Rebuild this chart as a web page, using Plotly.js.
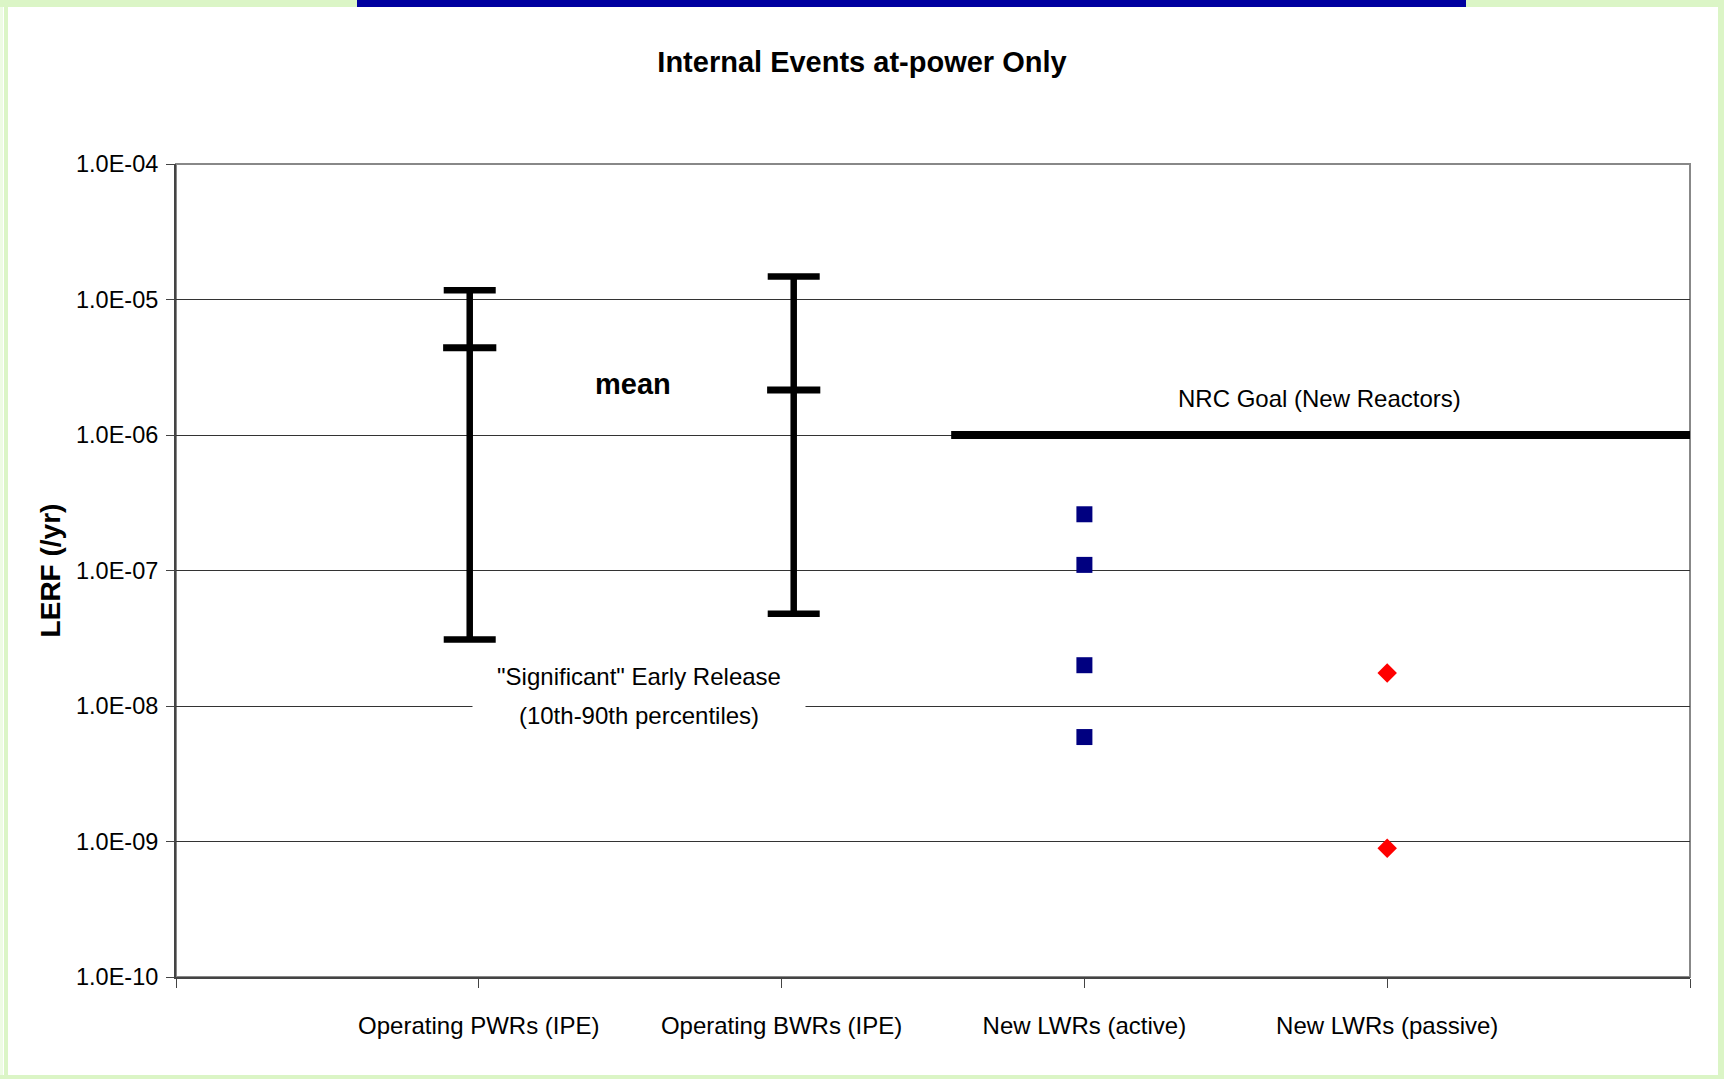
<!DOCTYPE html>
<html>
<head>
<meta charset="utf-8">
<script src="https://cdn.plot.ly/plotly-3.0.1.min.js"></script>
<style>
  html, body { margin: 0; padding: 0; background: #ffffff; }
  #wrap { position: relative; width: 1724px; height: 1079px; overflow: hidden; background: #ffffff; }
  #chart { position: absolute; left: 0; top: 0; width: 1724px; height: 1079px; }
  .frame { position: absolute; background: #dbf5c6; pointer-events: none; }
</style>
</head>
<body>
<div id="wrap">
  <div id="chart"></div>
  <div class="frame" style="left:0;top:0;width:3px;height:1079px;background:#eefbe4;"></div>
  <div class="frame" style="left:4px;top:0;width:4px;height:1079px;"></div>
  <div class="frame" style="left:0;top:0;width:1724px;height:7px;"></div>
  <div class="frame" style="left:1718px;top:0;width:6px;height:1079px;"></div>
  <div class="frame" style="left:0;top:1075px;width:1724px;height:4px;"></div>
  <div class="frame" style="left:357px;top:0;width:1109px;height:7px;background:#0000a0;"></div>
</div>
<script>
// ---- data ----
const categories = ['Operating PWRs (IPE)', 'Operating BWRs (IPE)', 'New LWRs (active)', 'New LWRs (passive)'];
const categoryPos = [1, 2, 3, 4];

const ipeGroups = ['Operating PWRs (IPE)', 'Operating BWRs (IPE)'];
const ipeX = [0.97, 2.04];
const ipeP10 = [3.1e-8, 4.8e-8];
const ipeMean = [4.4e-6, 2.15e-6];
const ipeP90 = [1.17e-5, 1.48e-5];

const activeX = 3;
const activeValues = [2.6e-7, 1.1e-7, 2.0e-8, 5.9e-9];

const passiveX = 4;
const passiveValues = [1.75e-8, 8.9e-10];

const goalValue = 1e-6;
const goalX = [2.56, 5];

const yTickVals = [1e-10, 1e-9, 1e-8, 1e-7, 1e-6, 1e-5, 1e-4];
const yTickText = ['1.0E-10', '1.0E-09', '1.0E-08', '1.0E-07', '1.0E-06', '1.0E-05', '1.0E-04'];

const noteLines = ['"Significant" Early Release', '(10th-90th percentiles)'];

// ---- styling ----
const FONT = "'Liberation Sans', Arial, sans-serif";

const traces = [
  {
    type: 'scatter', mode: 'markers', name: 'IPE mean (10th-90th percentiles)',
    x: ipeX, y: ipeMean, text: ipeGroups,
    marker: { symbol: 'line-ew', size: 38, color: '#000', line: { color: '#000', width: 7 } },
    error_y: {
      type: 'data', symmetric: false,
      array: ipeP90.map((v, i) => v - ipeMean[i]),
      arrayminus: ipeMean.map((v, i) => v - ipeP10[i]),
      color: '#000', thickness: 6.5, width: 26
    },
    showlegend: false, cliponaxis: false
  },
  {
    type: 'scatter', mode: 'lines', name: 'NRC Goal (New Reactors)',
    x: goalX, y: goalX.map(() => goalValue),
    line: { color: '#000', width: 8 },
    showlegend: false, cliponaxis: false
  },
  {
    type: 'scatter', mode: 'markers', name: 'New LWRs (active)',
    x: activeValues.map(() => activeX), y: activeValues,
    marker: { symbol: 'square', size: 16, color: '#000080' },
    showlegend: false
  },
  {
    type: 'scatter', mode: 'markers', name: 'New LWRs (passive)',
    x: passiveValues.map(() => passiveX), y: passiveValues,
    marker: { symbol: 'diamond', size: 15, color: '#ff0000' },
    showlegend: false
  }
];

const layout = {
  width: 1724, height: 1079,
  margin: { l: 176, r: 34, t: 164, b: 102 },
  paper_bgcolor: '#ffffff', plot_bgcolor: '#ffffff',
  showlegend: false,
  title: {
    text: '<b>Internal Events at-power Only</b>',
    font: { family: FONT, size: 29, color: '#000' },
    x: 0.5, xanchor: 'center', y: 1 - 62 / 1079, yanchor: 'middle'
  },
  xaxis: {
    range: [0, 5], fixedrange: true,
    tickvals: [0].concat(categoryPos, [5]),
    ticktext: [''].concat(categories, ['']),
    ticks: 'outside', ticklen: 9, tickcolor: '#444', tickwidth: 1,
    ticklabelstandoff: 17,
    tickfont: { family: FONT, size: 24, color: '#000' },
    showgrid: false, zeroline: false,
    showline: true, linecolor: '#444', linewidth: 2
  },
  yaxis: {
    type: 'log', range: [-10, -4], fixedrange: true,
    tickvals: yTickVals, ticktext: yTickText,
    ticks: 'outside', ticklen: 8, tickcolor: '#444', tickwidth: 1,
    ticklabelstandoff: 3,
    tickfont: { family: FONT, size: 23.5, color: '#000' },
    showgrid: true, gridcolor: '#333', gridwidth: 1,
    zeroline: false,
    showline: true, linecolor: '#444', linewidth: 2,
    title: {
      text: '<b>LERF (/yr)</b>',
      font: { family: FONT, size: 28, color: '#000' },
      standoff: 7
    }
  },
  shapes: [
    { type: 'rect', xref: 'paper', yref: 'paper', x0: 0, x1: 1, y0: 0, y1: 1,
      line: { color: '#888', width: 2 }, layer: 'below' }
  ],
  annotations: [
    { text: '<b>mean</b>', x: 1.51, y: -5.62, xref: 'x', yref: 'y', showarrow: false,
      font: { family: FONT, size: 29, color: '#000' } },
    { text: 'NRC Goal (New Reactors)', x: 3.775, y: -5.73, xref: 'x', yref: 'y', showarrow: false,
      font: { family: FONT, size: 24, color: '#000' } },
    { text: noteLines[0], x: 1.53, y: -7.78,
      xref: 'x', yref: 'y', showarrow: false, bgcolor: '#ffffff', width: 326, align: 'center',
      font: { family: FONT, size: 24, color: '#000' } },
    { text: noteLines[1], x: 1.53, y: -8.07,
      xref: 'x', yref: 'y', showarrow: false, bgcolor: '#ffffff', width: 326, borderpad: 3, align: 'center',
      font: { family: FONT, size: 24, color: '#000' } }
  ]
};

Plotly.newPlot('chart', traces, layout, { staticPlot: true, displayModeBar: false });
</script>
</body>
</html>
